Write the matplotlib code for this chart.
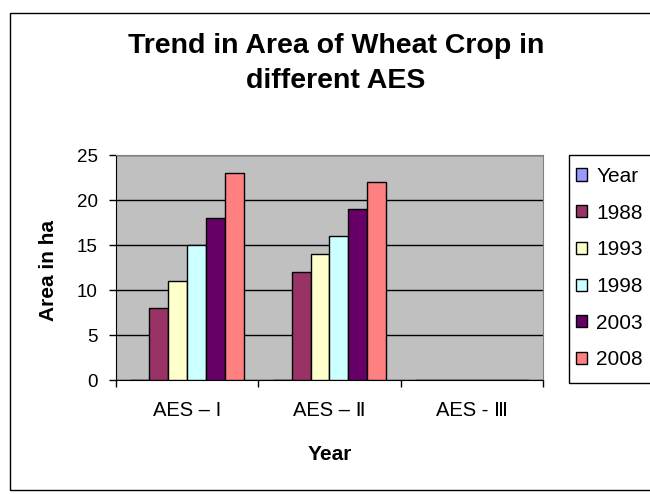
import matplotlib
matplotlib.use("Agg")
import matplotlib.pyplot as plt
from matplotlib.patches import Rectangle
import numpy as np

plt.rcParams['font.family'] = ['Liberation Sans', 'DejaVu Sans']

categories = ["AES – I", "AES – Ⅱ", "AES - Ⅲ"]
series_names = ["Year", "1988", "1993", "1998", "2003", "2008"]
values = {
    "Year": [0, 0, 0],
    "1988": [8, 12, 0],
    "1993": [11, 14, 0],
    "1998": [15, 16, 0],
    "2003": [18, 19, 0],
    "2008": [23, 22, 0],
}
colors = ["#9999FF", "#993366", "#FFFFCC", "#CCFFFF", "#660066", "#FF8080"]
y_ticks = [0, 5, 10, 15, 20, 25]

W, H = 650, 494
fig = plt.figure(figsize=(W / 100, H / 100), dpi=100)

# outer chart frame
fig.patches.append(Rectangle((10 / W, 1 - 490 / H), 700 / W, (490 - 13) / H,
                             transform=fig.transFigure, fill=False,
                             edgecolor="black", linewidth=1.0))
# legend frame (runs off the right edge)
fig.patches.append(Rectangle((569 / W, 1 - 383 / H), 200 / W, (383 - 155) / H,
                             transform=fig.transFigure, fill=False,
                             edgecolor="black", linewidth=1.0))

ax = fig.add_axes([116 / W, 1 - 380 / H, 427 / W, 225 / H])
ax.set_facecolor("#C0C0C0")

n = len(series_names)
gap = 1.5
w = 1.0 / (n + gap)
x = np.arange(len(categories))
for i, name in enumerate(series_names):
    ax.bar(x + (i - (n - 1) / 2) * w, values[name], width=w,
           color=colors[i], edgecolor="black", linewidth=1.0, zorder=3,
           label=name)

ax.set_xlim(-0.5, len(categories) - 0.5)
ax.set_ylim(0, 25)
ax.set_yticks(y_ticks)
ax.set_yticklabels([str(t) for t in y_ticks], fontsize=13.5)
ax.yaxis.grid(True, color="black", linewidth=1.0, zorder=1)
ax.set_axisbelow(True)

ax.set_xticks(x)
ax.set_xticklabels(categories, fontsize=14.5)
ax.set_xticks(np.arange(len(categories) + 1) - 0.5, minor=True)
ax.tick_params(axis="x", which="major", length=0, pad=15)
ax.tick_params(axis="x", which="minor", length=5, width=1, direction="out")
ax.tick_params(axis="y", length=5, width=1, direction="out", pad=8)

for side in ("top", "right"):
    ax.spines[side].set_color("#808080")
for side in ("left", "bottom"):
    ax.spines[side].set_color("black")

fig.text(330 / W, 1 - 454 / H, "Year", ha="center", va="center",
         fontsize=15, fontweight="bold")
fig.text(49 / W, 1 - 270 / H, "Area in ha", ha="center", va="center",
         rotation=90, fontsize=15, fontweight="bold")

fig.text(336 / W, 1 - 46 / H, "Trend in Area of Wheat Crop in",
         ha="center", va="center", fontsize=20.5, fontweight="bold")
fig.text(336 / W, 1 - 81 / H, "different AES",
         ha="center", va="center", fontsize=20.5, fontweight="bold")

handles, labels = ax.get_legend_handles_labels()
leg = fig.legend(handles, labels, loc="upper left",
                 bbox_to_anchor=(569 / W, 1 - 160 / H),
                 frameon=False, fontsize=15,
                 handlelength=0.52, handleheight=0.52, handletextpad=0.45,
                 labelspacing=0.85, borderpad=0.33, borderaxespad=0)
for h in leg.legend_handles:
    h.set_edgecolor("black")
    h.set_linewidth(1.0)

fig.savefig("out.png", dpi=100)
